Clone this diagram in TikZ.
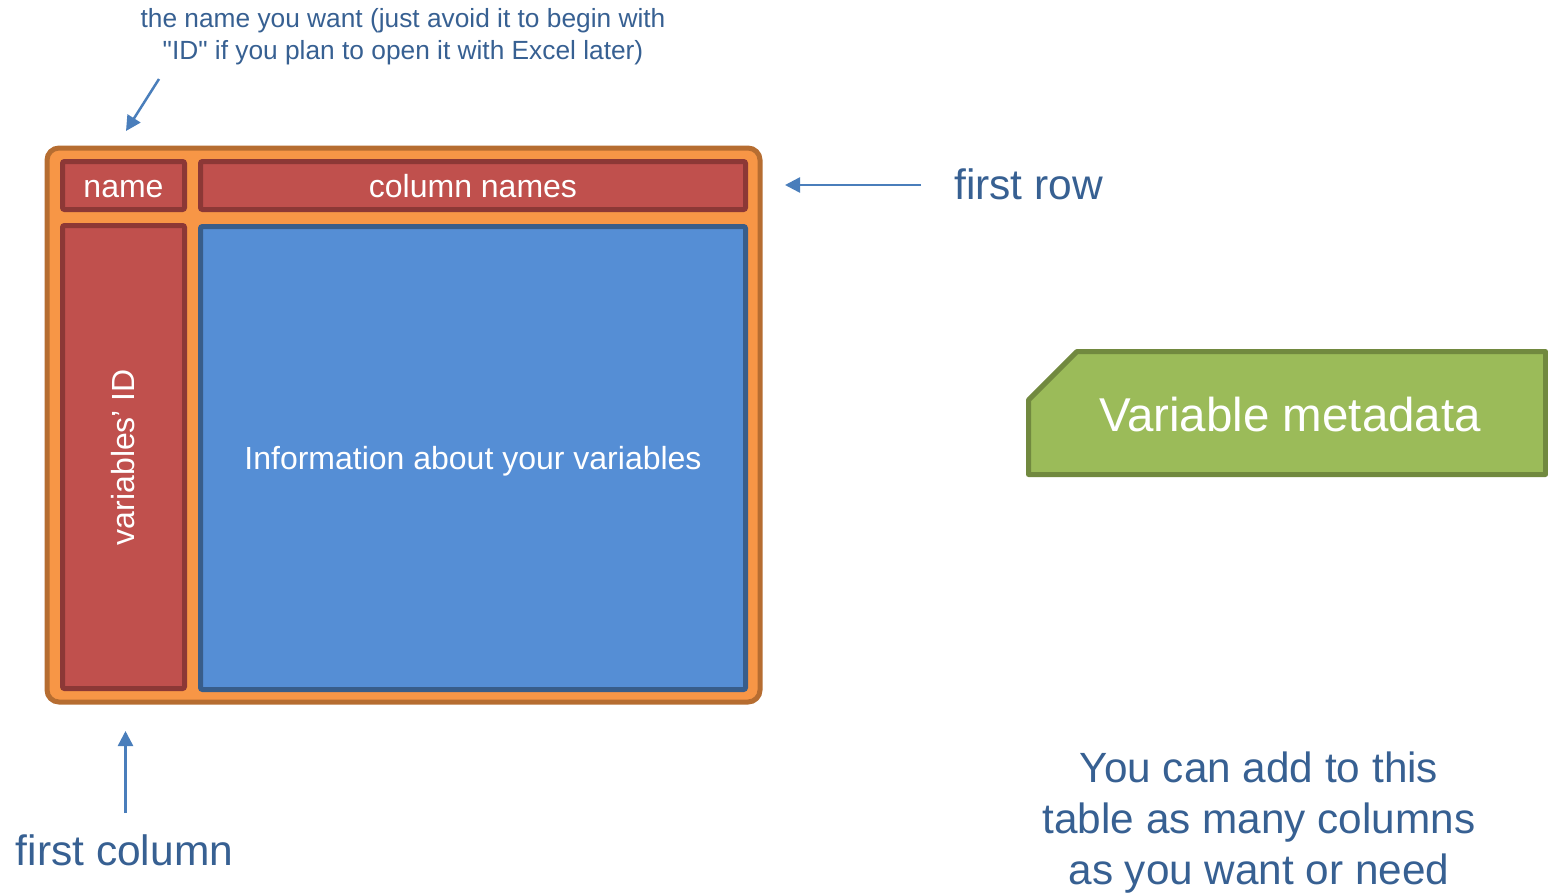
\documentclass[tikz,border=0pt]{standalone}
\usepackage{fontspec}
\setmainfont{Liberation Sans}[Ligatures=TeXOff]
\usetikzlibrary{arrows.meta}
\definecolor{txtblue}{HTML}{376092}
\definecolor{arrblue}{HTML}{4A7EBB}
\definecolor{orfill}{HTML}{F79646}
\definecolor{ordraw}{HTML}{B66D31}
\definecolor{redfill}{HTML}{C0504D}
\definecolor{reddraw}{HTML}{8C3836}
\definecolor{bluefill}{HTML}{558ED5}
\definecolor{bluedraw}{HTML}{385D8A}
\definecolor{grfill}{HTML}{9BBB59}
\definecolor{grdraw}{HTML}{71893F}
\tikzset{
  cell/.style={draw, line width=5pt, rounded corners=2pt, inner sep=0pt, text=white, font=\fontsize{32}{38}\selectfont, text height=23pt, text depth=0pt},
  redcell/.style={cell, fill=redfill, draw=reddraw},
  bluecell/.style={cell, fill=bluefill, draw=bluedraw},
  note/.style={text=txtblue, inner sep=0pt},
  pointer/.style={draw=arrblue, line width=2.5pt, -{Triangle[length=15pt,width=15pt]}},
}
\begin{document}
\begin{tikzpicture}[x=1pt,y=-1pt]
\useasboundingbox (0,0) rectangle (1548,892);
% outer table frame
\node[draw=ordraw, fill=orfill, line width=5pt, rounded corners=12pt, minimum width=713pt, minimum height=554pt, inner sep=0pt] (frame) at (403.5,425) {};
\node[redcell, minimum width=122pt, minimum height=48pt] (name) at (123.5,185.5) {name};
\node[redcell, minimum width=545pt, minimum height=48pt] (colnames) at (473,185.5) {column names};
\node[redcell, minimum width=122pt, minimum height=463pt] (varid) at (123.5,457) {};
\node[text=white, rotate=90, inner sep=0pt, font=\fontsize{32}{38}\selectfont] (varidtext) at (varid.center) {variables’ ID};
\node[bluecell, minimum width=545pt, minimum height=463pt] (info) at (473,458) {Information about your variables};
% annotations
\node[note, align=center, font=\fontsize{26.3}{32}\selectfont] (topnote) at (403,37) {the name you want (just avoid it to begin with\\"ID" if you plan to open it with Excel later)};
\node[note, anchor=west, font=\fontsize{42.5}{50}\selectfont] (firstrow) at (954,184) {first row};
\node[note, font=\fontsize{42.5}{50}\selectfont] (firstcol) at (124.5,850) {first column};
\node[note, align=center, font=\fontsize{42.3}{51}\selectfont] (addnote) at (1259,823) {You can add to this\\table as many columns\\as you want or need};
% variable metadata
\path[draw=grdraw, fill=grfill, line width=5pt, line join=round]
  (1028.5,400) -- (1077,351.5) -- (1545.5,351.5) -- (1545.5,474.5) -- (1028.5,474.5) -- cycle;
\node[text=white, inner sep=0pt, font=\fontsize{47.5}{56}\selectfont] (metatext) at (1290,415) {Variable metadata};
% arrows
\coordinate (a1s) at (159,79);
\coordinate (a1e) at (126,131);
\coordinate (a2s) at (921,185);
\coordinate (a2e) at (785,185);
\coordinate (a3s) at (125.5,813);
\coordinate (a3e) at (125.5,731);
\draw[pointer] (a1s) -- (a1e);
\draw[pointer] (a2s) -- (a2e);
\draw[pointer] (a3s) -- (a3e);
\end{tikzpicture}
\end{document}
